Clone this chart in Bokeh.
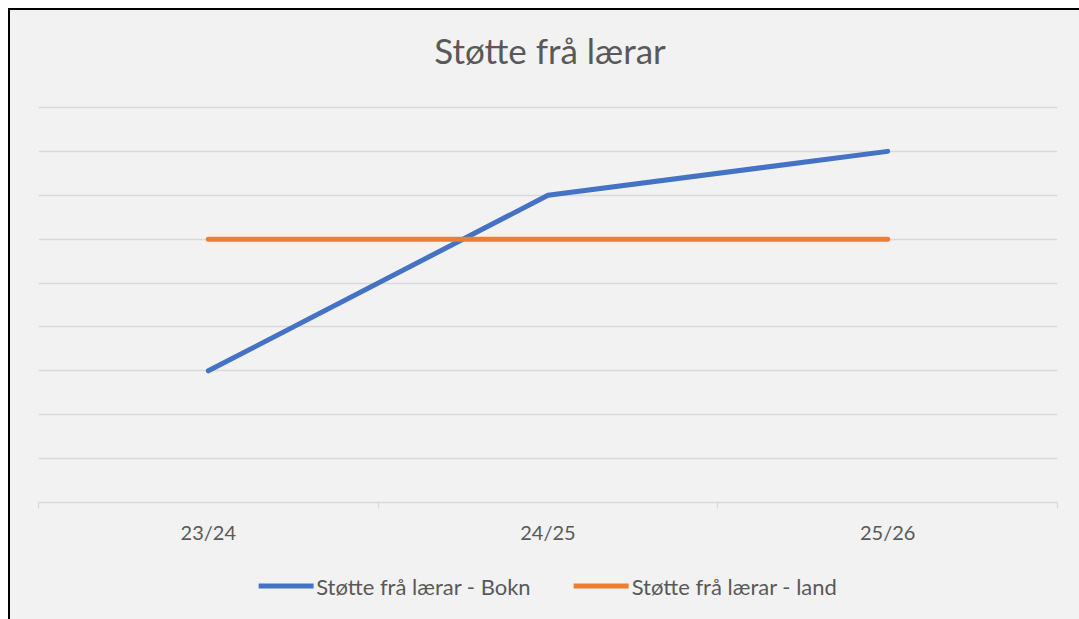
from bokeh.plotting import figure
from bokeh.layouts import column
from bokeh.models import FixedTicker, Legend, LegendItem, Range1d, ColumnDataSource, Label
from bokeh.embed import file_html
from bokeh.resources import INLINE

categories = ["23/24", "24/25", "25/26"]
bokn = [3, 7, 8]
land = [6, 6, 6]
series_names = ["Støtte frå lærar - Bokn", "Støtte frå lærar - land"]
series_colors = ["#4472C4", "#ED7D31"]
title_text = "Støtte frå lærar"

FONT = "Lato"
TXT = "#595959"
GRID = "#d9d9d9"
BG = "#f2f2f2"


def blank(width, height, left=0):
    f = figure(width=width, height=height, output_backend="svg", toolbar_location=None,
               x_range=Range1d(0, 1), y_range=Range1d(0, 1),
               x_axis_location=None, y_axis_location=None,
               min_border_left=left, min_border_right=0,
               min_border_top=0, min_border_bottom=0)
    f.background_fill_color = BG
    f.border_fill_color = BG
    f.outline_line_color = None
    f.grid.visible = False
    return f


# ---- title strip ----
p_title = blank(1069, 95)
p_title.add_layout(Label(x=0.502, y=0.58, text=title_text, text_align="center",
                         text_baseline="middle", text_font=FONT, text_font_size="35px",
                         text_color=TXT))

# ---- main plot ----
xs = [i + 0.5 for i in range(len(categories))]
src = ColumnDataSource(dict(x=xs, bokn=bokn, land=land))

y_top = 9
head = 2 * y_top / 395.0  # 2px headroom so the top gridline is drawn
p = figure(frame_width=1019, frame_height=397, output_backend="svg", toolbar_location=None,
           x_range=Range1d(0, len(categories)), y_range=Range1d(0, y_top + head),
           min_border_left=28, min_border_right=22, min_border_top=0, min_border_bottom=50)
p.title.visible = False
p.background_fill_color = BG
p.border_fill_color = BG
p.outline_line_color = None

p.yaxis.visible = False
p.ygrid.ticker = FixedTicker(ticks=list(range(0, y_top + 1)))
p.ygrid.grid_line_color = GRID
p.ygrid.grid_line_width = 1.3
p.xgrid.visible = False

ax = p.xaxis[0]
ax.ticker = FixedTicker(ticks=xs, minor_ticks=list(range(len(categories) + 1)))
ax.major_label_overrides = {x: c for x, c in zip(xs, categories)}
ax.major_tick_line_color = None
ax.major_tick_out = 0
ax.major_tick_in = 0
ax.minor_tick_line_color = GRID
ax.minor_tick_line_width = 1.3
ax.minor_tick_out = 6
ax.minor_tick_in = 0
ax.axis_line_color = GRID
ax.axis_line_width = 1.3
ax.major_label_text_font = FONT
ax.major_label_text_font_size = "20px"
ax.major_label_text_color = TXT
ax.major_label_standoff = 11

p.line("x", "bokn", source=src, line_color=series_colors[0], line_width=5,
       line_cap="round", line_join="round")
p.line("x", "land", source=src, line_color=series_colors[1], line_width=5,
       line_cap="round", line_join="round")

# ---- legend strip (same series, drawn outside its visible range, only for the legend) ----
p_leg = blank(1069, 67, left=14)
items = []
for name, col, field in zip(series_names, series_colors, ["bokn", "land"]):
    r = p_leg.line("x", field, source=src, line_color=col, line_width=5, line_cap="round")
    items.append(LegendItem(label=name, renderers=[r]))
legend = Legend(items=items, orientation="horizontal", location="center")
legend.background_fill_alpha = 0
legend.border_line_color = None
legend.label_text_font = FONT
legend.label_text_font_size = "22px"
legend.label_text_color = TXT
legend.glyph_width = 55
legend.label_standoff = 3
legend.spacing = 43
legend.margin = 0
legend.padding = 0
p_leg.add_layout(legend)

layout = column(p_title, p, p_leg, spacing=0,
                styles={"margin-left": "8px", "margin-top": "8px",
                        "border-left": "2px solid #000", "border-top": "2px solid #000",
                        "background-color": BG})

open("out.html", "w").write(file_html(layout, INLINE))
